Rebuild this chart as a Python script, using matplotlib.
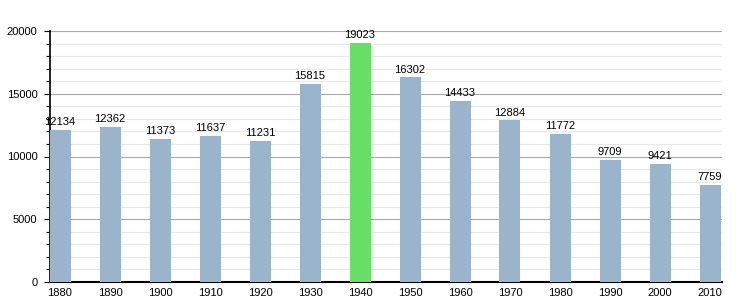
import numpy as np
import matplotlib.pyplot as plt
from matplotlib.ticker import MultipleLocator

years = [1880, 1890, 1900, 1910, 1920, 1930, 1940, 1950, 1960, 1970, 1980, 1990, 2000, 2010]
population = [12134, 12362, 11373, 11637, 11231, 15815, 19023, 16302, 14433, 12884, 11772, 9709, 9421, 7759]
highlight_year = 1940

plt.rcParams['font.family'] = ['Liberation Sans', 'DejaVu Sans']

fig = plt.figure(figsize=(7.5, 3), dpi=100)
ax = fig.add_axes([50/750, 18/300, 672/750, 251/300])

x = np.arange(len(years))
colors = ['#66e066' if y == highlight_year else '#9ab4cc' for y in years]
ax.bar(x, population, width=0.42, color=colors, zorder=3)

for xi, v in zip(x, population):
    ax.annotate(str(v), (xi, v), xytext=(0, 2), textcoords='offset points',
                ha='center', va='bottom', fontsize=8, zorder=4)

ax.set_xlim(-0.2, 13.24)
ax.set_ylim(0, 20000)
ax.set_xticks(x)
ax.set_xticklabels([str(y) for y in years], fontsize=8)
ax.yaxis.set_major_locator(MultipleLocator(5000))
ax.yaxis.set_minor_locator(MultipleLocator(1000))
ax.tick_params(axis='y', labelsize=8, length=4, width=0.8, direction='out', pad=5)
ax.tick_params(axis='y', which='minor', length=3, width=0.8)
ax.tick_params(axis='x', length=0, pad=4)

ax.grid(axis='y', which='major', color='#a8a8a8', linewidth=0.8, zorder=0)
ax.grid(axis='y', which='minor', color='#e8e8e8', linewidth=0.8, zorder=0)
ax.set_axisbelow(True)

for s in ['top', 'right']:
    ax.spines[s].set_visible(False)
ax.spines['left'].set_linewidth(1.2)
ax.spines['bottom'].set_linewidth(1.5)

fig.savefig('out.png', dpi=100)
